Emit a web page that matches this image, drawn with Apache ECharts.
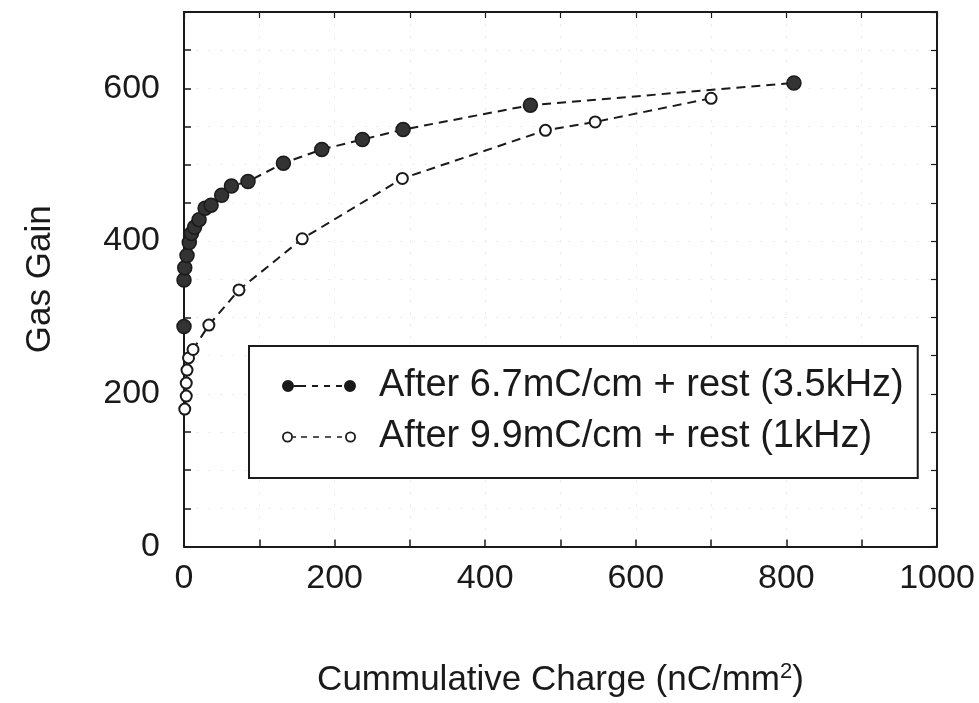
<!DOCTYPE html>
<html>
<head>
<meta charset="utf-8">
<script src="https://cdn.jsdelivr.net/npm/echarts@6/dist/echarts.min.js"></script>
<style>
html,body{margin:0;padding:0;background:#fff;}
#chart{width:979px;height:703px;}
</style>
</head>
<body>
<div id="chart"></div>
<script>
// ---- data ----
const seriesNames = ['After 6.7mC/cm + rest (3.5kHz)', 'After 9.9mC/cm + rest (1kHz)'];
const xFilled = [0, 0, 1, 4, 7, 10, 14, 20, 28, 36, 50, 63, 85, 132, 183, 237, 291, 460, 810];
const yFilled = [288, 349, 365, 381, 398, 410, 418, 428, 443, 447, 460, 472, 478, 502, 520, 533, 546, 578, 607];
const xOpen = [1, 3, 3, 4, 6, 12, 33, 73, 157, 290, 480, 546, 700];
const yOpen = [180, 197, 214, 231, 247, 258, 290, 336, 403, 482, 545, 556, 587];
const xTickLabels = [0, 200, 400, 600, 800, 1000];
const yTickLabels = [0, 200, 400, 600];

const FONT = "'Liberation Sans', Arial, Helvetica, sans-serif";
const INK = '#1a1a1a';

const pairs = (xs, ys) => xs.map((x, i) => [x, ys[i]]);

const iconFilled = 'path://M0 6 A6 6 0 1 1 12 6 A6 6 0 1 1 0 6 Z M12 5 L24 5 L24 7 L12 7 Z M30 5 L36 5 L36 7 L30 7 Z M42 5 L48 5 L48 7 L42 7 Z M54 5 L60 5 L60 7 L54 7 Z M62 6 A6 6 0 1 1 74 6 A6 6 0 1 1 62 6 Z';
const iconOpen = 'path://M0 5.5 A5.5 5.5 0 1 1 11 5.5 A5.5 5.5 0 1 1 0 5.5 Z M1.8 5.5 A3.7 3.7 0 1 0 9.2 5.5 A3.7 3.7 0 1 0 1.8 5.5 Z M11 4.7 L14 4.7 L14 6.3 L11 6.3 Z M19 4.7 L25 4.7 L25 6.3 L19 6.3 Z M31 4.7 L37 4.7 L37 6.3 L31 6.3 Z M43 4.7 L49 4.7 L49 6.3 L43 6.3 Z M55 4.7 L60 4.7 L60 6.3 L55 6.3 Z M63 5.5 A5.5 5.5 0 1 1 74 5.5 A5.5 5.5 0 1 1 63 5.5 Z M64.8 5.5 A3.7 3.7 0 1 0 72.2 5.5 A3.7 3.7 0 1 0 64.8 5.5 Z';

const showLabel = (list) => (v) => (list.indexOf(v) >= 0 ? String(v) : '');

const chart = echarts.init(document.getElementById('chart'), null, {renderer: 'canvas'});

const option = {
  backgroundColor: '#fff',
  animation: false,
  textStyle: {fontFamily: FONT, color: INK},
  grid: {left: 184, right: 42, top: 12, bottom: 156, show: false},
  legend: {
    orient: 'vertical',
    left: 249,
    top: 346,
    padding: [20, 14, 21, 33],
    itemGap: 11,
    itemWidth: 74,
    itemHeight: 12,
    borderColor: INK,
    borderWidth: 2,
    backgroundColor: '#fff',
    selectedMode: false,
    textStyle: {fontFamily: FONT, fontSize: 38, color: INK, lineHeight: 40, padding: [0, 0, 0, 18]},
    data: [
      {name: seriesNames[0], icon: iconFilled, itemStyle: {color: INK, borderWidth: 0}},
      {name: seriesNames[1], icon: iconOpen, itemStyle: {color: INK, borderWidth: 0}}
    ]
  },
  xAxis: [{
    type: 'value', min: 0, max: 1000, interval: 100,
    position: 'bottom',
    name: 'Cummulative Charge (nC/mm{sup|2})',
    nameLocation: 'middle', nameGap: 114,
    nameTextStyle: {fontFamily: FONT, fontSize: 35, color: INK,
      rich: {sup: {fontFamily: FONT, fontSize: 22, color: INK, verticalAlign: 'top', padding: [0, 0, 18, 0]}}},
    axisLine: {show: true, onZero: false, lineStyle: {color: INK, width: 2}},
    axisTick: {show: true, inside: true, length: 7, lineStyle: {color: INK, width: 1.5}},
    axisLabel: {show: true, margin: 15, fontFamily: FONT, fontSize: 34, color: INK, formatter: showLabel(xTickLabels)},
    splitLine: {show: true, lineStyle: {color: '#efefef', width: 1, type: [3, 9]}}
  }, {
    type: 'value', min: 0, max: 1000, interval: 100,
    position: 'top',
    axisLine: {show: true, onZero: false, lineStyle: {color: INK, width: 2}},
    axisTick: {show: true, inside: true, length: 6, lineStyle: {color: INK, width: 1.2}},
    axisLabel: {show: false},
    splitLine: {show: false}
  }],
  yAxis: [{
    type: 'value', min: 0, max: 700, interval: 50,
    position: 'left',
    name: 'Gas Gain',
    nameLocation: 'middle', nameGap: 126, nameRotate: 90,
    nameTextStyle: {fontFamily: FONT, fontSize: 35, color: INK},
    axisLine: {show: true, onZero: false, lineStyle: {color: INK, width: 2}},
    axisTick: {show: true, inside: true, length: 7, lineStyle: {color: INK, width: 1.5}},
    axisLabel: {show: true, margin: 24, fontFamily: FONT, fontSize: 34, color: INK, formatter: showLabel(yTickLabels)},
    splitLine: {show: true, lineStyle: {color: '#efefef', width: 1, type: [3, 9]}}
  }, {
    type: 'value', min: 0, max: 700, interval: 50,
    position: 'right',
    axisLine: {show: true, onZero: false, lineStyle: {color: INK, width: 2}},
    axisTick: {show: true, inside: true, length: 6, lineStyle: {color: INK, width: 1.2}},
    axisLabel: {show: false},
    splitLine: {show: false}
  }],
  series: [{
    name: seriesNames[0],
    type: 'line',
    xAxisIndex: 0, yAxisIndex: 0,
    data: pairs(xFilled, yFilled),
    symbol: 'circle',
    symbolSize: 14,
    clip: false,
    itemStyle: {color: '#333', borderColor: INK, borderWidth: 1.5},
    lineStyle: {color: INK, width: 2, type: [9, 6]},
    z: 3
  }, {
    name: seriesNames[1],
    type: 'line',
    xAxisIndex: 0, yAxisIndex: 0,
    data: pairs(xOpen, yOpen),
    symbol: 'circle',
    symbolSize: 11,
    showAllSymbol: true,
    clip: false,
    itemStyle: {color: '#fff', borderColor: INK, borderWidth: 2},
    lineStyle: {color: INK, width: 2, type: [9, 6]},
    z: 2
  }]
};
chart.setOption(option);
</script>
</body>
</html>
